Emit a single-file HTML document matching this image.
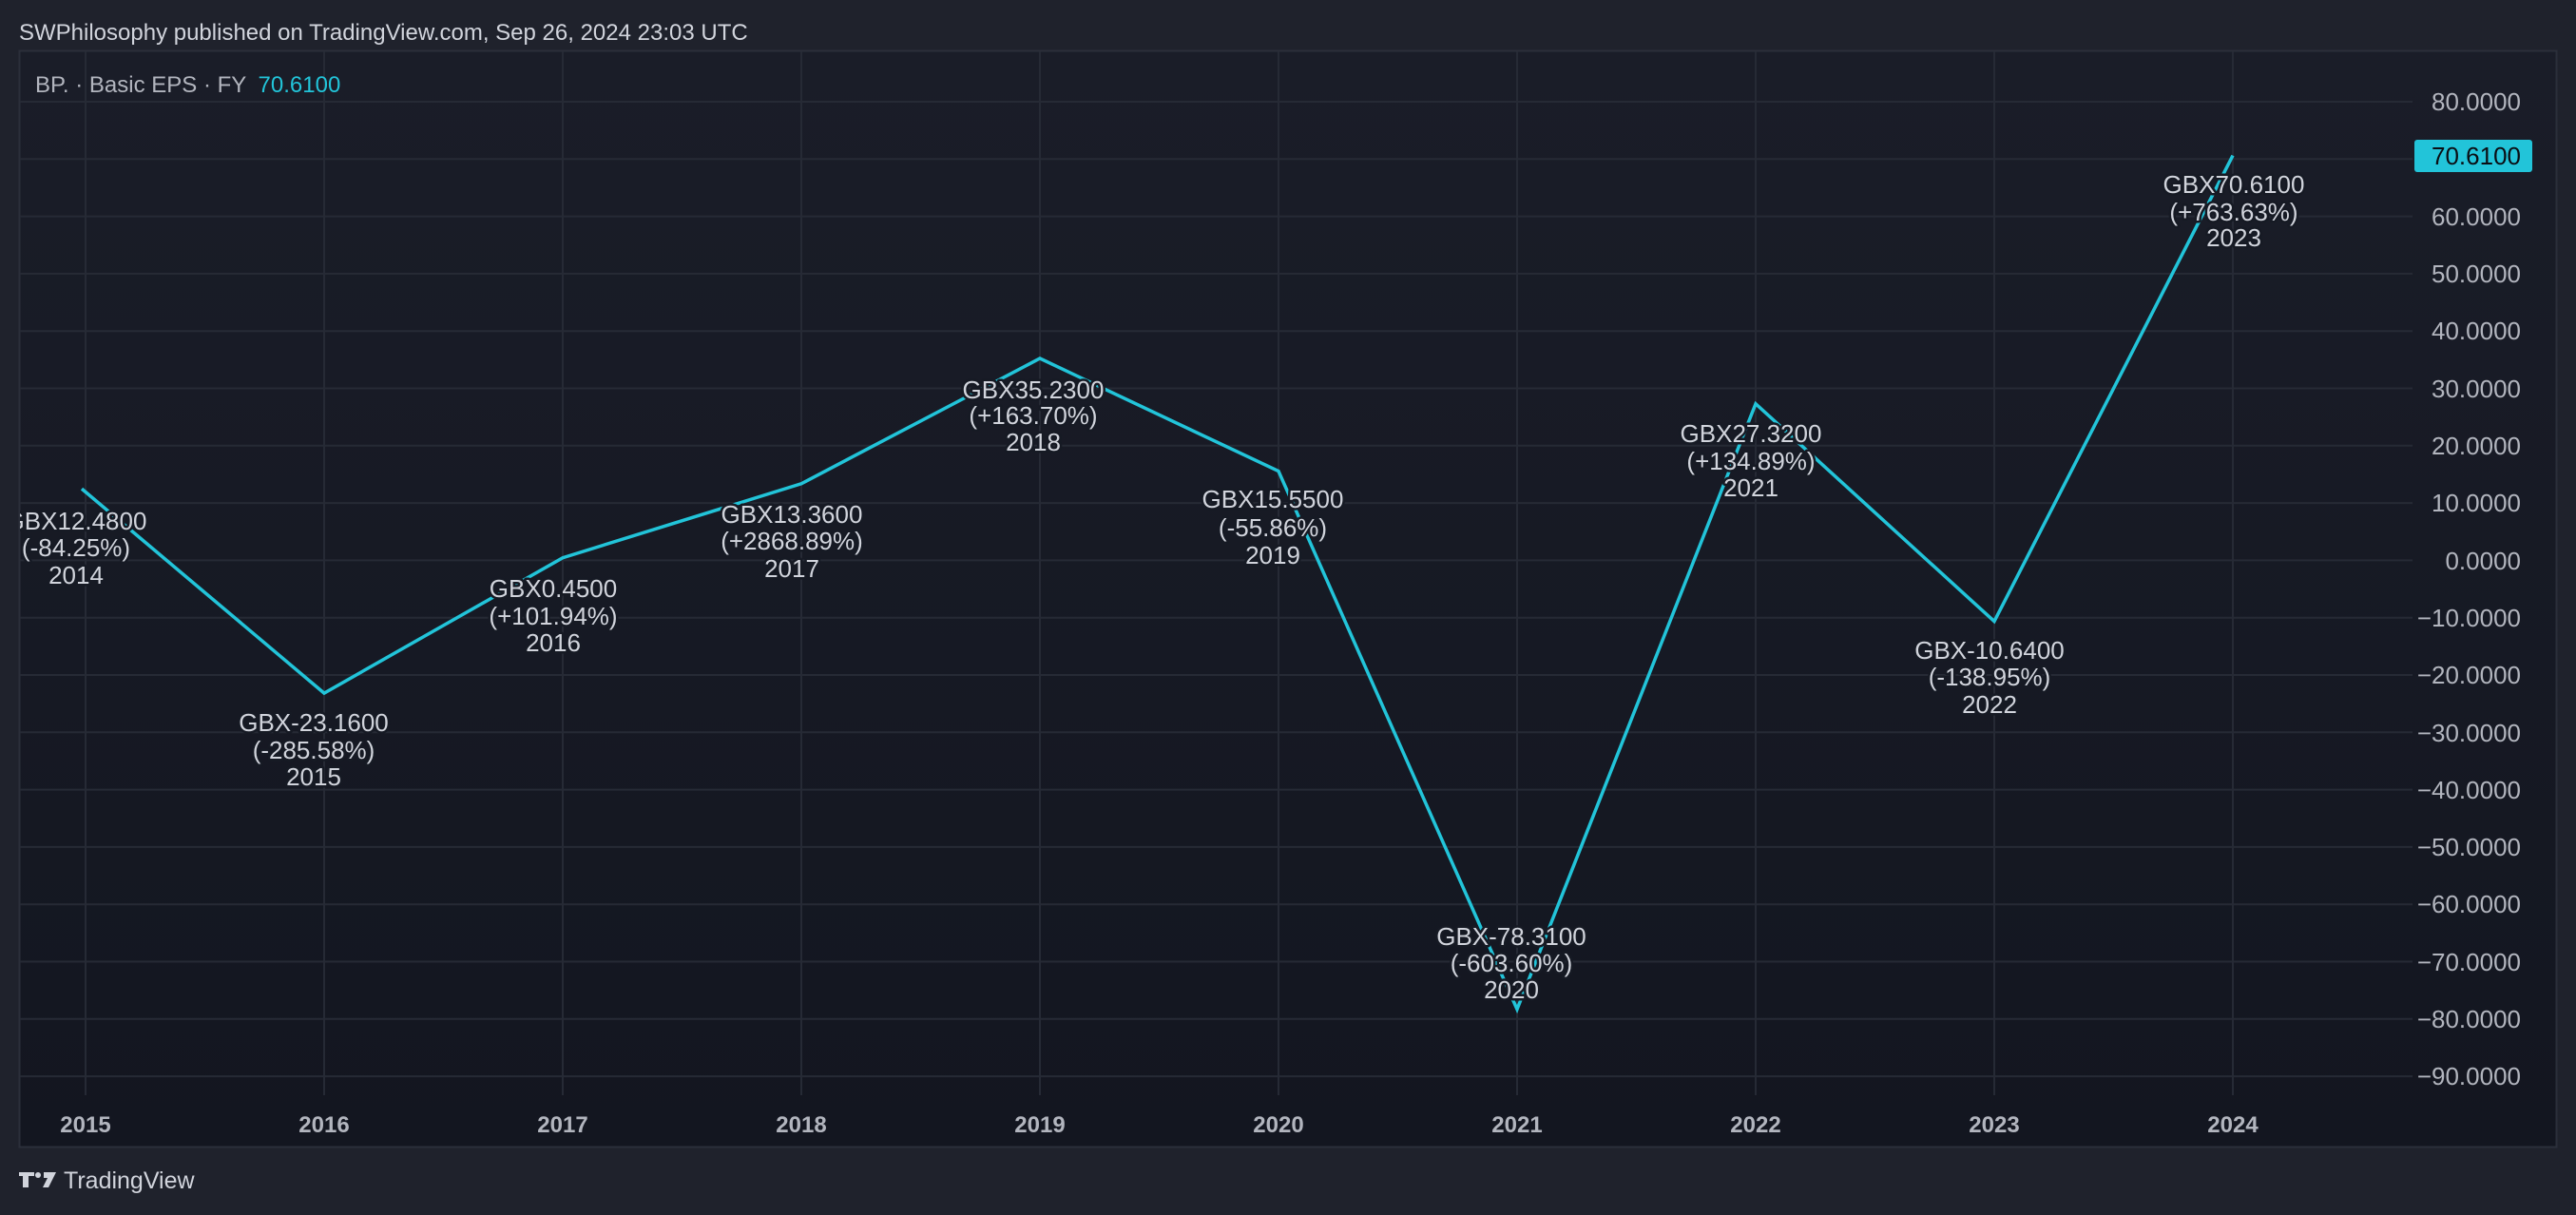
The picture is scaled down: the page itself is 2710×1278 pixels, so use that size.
<!DOCTYPE html>
<html><head><meta charset="utf-8"><style>
html,body{margin:0;padding:0;background:#1f222c;}
svg{display:block}
</style></head><body>
<svg width="2710" height="1278" viewBox="0 0 2710 1278" xmlns="http://www.w3.org/2000/svg" font-family="Liberation Sans, sans-serif">
<defs>
<linearGradient id="bg" x1="0" y1="0" x2="0" y2="1">
<stop offset="0" stop-color="#1a1d28"/><stop offset="1" stop-color="#131620"/>
</linearGradient>
<clipPath id="pc"><rect x="21" y="54" width="2518" height="1153"/></clipPath>
</defs>
<rect width="2710" height="1278" fill="#1f222c"/>
<text x="20" y="42" font-size="24" fill="#d1d4dc">SWPhilosophy published on TradingView.com, Sep 26, 2024 23:03 UTC</text>
<rect x="20.5" y="53.5" width="2669" height="1153" fill="url(#bg)" stroke="#2b2f3a" stroke-width="2"/>
<g stroke="#262a35" stroke-width="2">
<line x1="21" x2="2538" y1="107" y2="107"/><line x1="21" x2="2538" y1="167.3" y2="167.3"/><line x1="21" x2="2538" y1="227.6" y2="227.6"/><line x1="21" x2="2538" y1="287.9" y2="287.9"/><line x1="21" x2="2538" y1="348.2" y2="348.2"/><line x1="21" x2="2538" y1="408.5" y2="408.5"/><line x1="21" x2="2538" y1="468.8" y2="468.8"/><line x1="21" x2="2538" y1="529.1" y2="529.1"/><line x1="21" x2="2538" y1="589.4" y2="589.4"/><line x1="21" x2="2538" y1="649.7" y2="649.7"/><line x1="21" x2="2538" y1="710" y2="710"/><line x1="21" x2="2538" y1="770.3" y2="770.3"/><line x1="21" x2="2538" y1="830.6" y2="830.6"/><line x1="21" x2="2538" y1="890.9" y2="890.9"/><line x1="21" x2="2538" y1="951.2" y2="951.2"/><line x1="21" x2="2538" y1="1011.5" y2="1011.5"/><line x1="21" x2="2538" y1="1071.8" y2="1071.8"/><line x1="21" x2="2538" y1="1132.1" y2="1132.1"/>
<line x1="90" x2="90" y1="54" y2="1152"/><line x1="341" x2="341" y1="54" y2="1152"/><line x1="592" x2="592" y1="54" y2="1152"/><line x1="843" x2="843" y1="54" y2="1152"/><line x1="1094" x2="1094" y1="54" y2="1152"/><line x1="1345" x2="1345" y1="54" y2="1152"/><line x1="1596" x2="1596" y1="54" y2="1152"/><line x1="1847" x2="1847" y1="54" y2="1152"/><line x1="2098" x2="2098" y1="54" y2="1152"/><line x1="2349" x2="2349" y1="54" y2="1152"/>
</g>
<text x="37" y="97" font-size="24" fill="#b2b5be">BP. · Basic EPS · FY <tspan dx="6" fill="#22c4d9">70.6100</tspan></text>
<polyline clip-path="url(#pc)" fill="none" stroke="#22c4d9" stroke-width="3.5" stroke-linejoin="miter" points="86,514.1 341,729.1 592,586.7 843,508.8 1094,377 1345,495.6 1596,1061.6 1847,424.7 2098,653.6 2349,163.6"/>
<g clip-path="url(#pc)" font-size="26" fill="#d1d4dc" text-anchor="middle" stroke="#161a24" stroke-width="5" paint-order="stroke" stroke-linejoin="round">
<text x="80" y="557">GBX12.4800</text><text x="80" y="585">(-84.25%)</text><text x="80" y="614">2014</text>
<text x="330" y="769">GBX-23.1600</text><text x="330" y="798">(-285.58%)</text><text x="330" y="826">2015</text>
<text x="582" y="628">GBX0.4500</text><text x="582" y="657">(+101.94%)</text><text x="582" y="685">2016</text>
<text x="833" y="550">GBX13.3600</text><text x="833" y="578">(+2868.89%)</text><text x="833" y="607">2017</text>
<text x="1087" y="419">GBX35.2300</text><text x="1087" y="446">(+163.70%)</text><text x="1087" y="474">2018</text>
<text x="1339" y="534">GBX15.5500</text><text x="1339" y="564">(-55.86%)</text><text x="1339" y="593">2019</text>
<text x="1590" y="994">GBX-78.3100</text><text x="1590" y="1022">(-603.60%)</text><text x="1590" y="1050">2020</text>
<text x="1842" y="465">GBX27.3200</text><text x="1842" y="494">(+134.89%)</text><text x="1842" y="522">2021</text>
<text x="2093" y="693">GBX-10.6400</text><text x="2093" y="721">(-138.95%)</text><text x="2093" y="750">2022</text>
<text x="2350" y="203">GBX70.6100</text><text x="2350" y="232">(+763.63%)</text><text x="2350" y="259">2023</text>
</g>
<g font-size="26" fill="#b2b5be" text-anchor="end">
<text x="2652" y="116">80.0000</text><text x="2652" y="237">60.0000</text><text x="2652" y="297">50.0000</text><text x="2652" y="357">40.0000</text><text x="2652" y="418">30.0000</text><text x="2652" y="478">20.0000</text><text x="2652" y="538">10.0000</text><text x="2652" y="599">0.0000</text><text x="2652" y="659">−10.0000</text><text x="2652" y="719">−20.0000</text><text x="2652" y="780">−30.0000</text><text x="2652" y="840">−40.0000</text><text x="2652" y="900">−50.0000</text><text x="2652" y="960">−60.0000</text><text x="2652" y="1021">−70.0000</text><text x="2652" y="1081">−80.0000</text><text x="2652" y="1141">−90.0000</text>
</g>
<rect x="2540" y="147" width="124" height="34" rx="3" fill="#22c4d9"/>
<text x="2652" y="173" font-size="26" fill="#0b0e14" text-anchor="end">70.6100</text>
<g font-size="24" font-weight="bold" fill="#b2b5be" text-anchor="middle">
<text x="90" y="1191">2015</text><text x="341" y="1191">2016</text><text x="592" y="1191">2017</text><text x="843" y="1191">2018</text><text x="1094" y="1191">2019</text><text x="1345" y="1191">2020</text><text x="1596" y="1191">2021</text><text x="1847" y="1191">2022</text><text x="2098" y="1191">2023</text><text x="2349" y="1191">2024</text>
</g>
<g fill="#d1d4dc">
<path d="M20 1233h16v4h-6v12h-6v-12h-4z"/>
<circle cx="40" cy="1236" r="3"/>
<path d="M46 1233h13l-8 16h-6l5-10h-4z"/>
</g>
<text x="67" y="1250" font-size="25" fill="#d1d4dc">TradingView</text>
</svg>
</body></html>
